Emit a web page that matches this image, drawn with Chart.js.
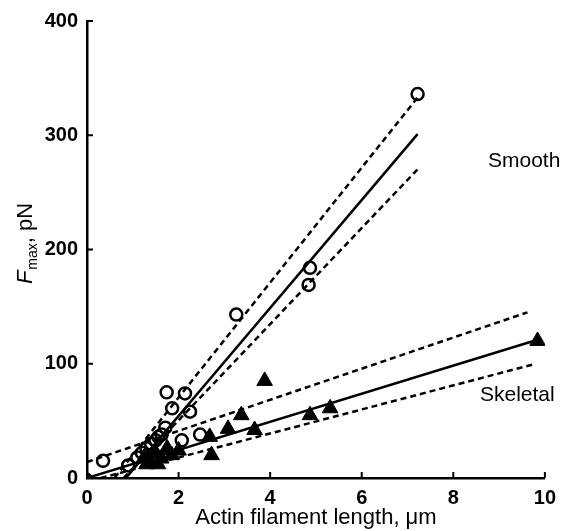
<!DOCTYPE html>
<html>
<head>
<meta charset="utf-8">
<script src="https://cdn.jsdelivr.net/npm/chart.js@4.4.1/dist/chart.umd.min.js"></script>
<style>
  html, body { margin: 0; padding: 0; background: #fff; }
</style>
</head>
<body>
<canvas id="fmax-chart" width="564" height="531"></canvas>
<script>
"use strict";
// values (x: um, y: pN)
const smoothLengths = [0.35, 0.9, 1.1, 1.2, 1.3, 1.4, 1.5, 1.56, 1.63, 1.71, 1.74, 1.86, 2.07, 2.14, 2.25, 2.47, 3.26, 4.84, 4.87, 7.22];
const smoothForces = [15, 11, 18, 22, 26, 30, 33, 36, 38, 44, 75, 61, 33, 74, 58, 38, 143, 169, 184, 336];
const skeletalLengths = [1.25, 1.3, 1.4, 1.5, 1.55, 1.62, 1.75, 1.85, 2.0, 2.68, 2.72, 3.08, 3.37, 3.66, 3.88, 4.87, 5.31, 9.84];
const skeletalForces = [18, 12, 14, 22, 12, 17, 26, 20, 24, 36, 20, 43, 55, 42, 85, 55, 61, 120];
const originLength = [0];
const originForce = [0];

// regression lines and bands (end points)
const smoothFitX = [0.85, 7.22];
const smoothFitY = [0, 301];
const smoothUpperX = [0.6, 7.22];
const smoothUpperY = [0, 333];
const smoothLowerX = [0.8, 7.24];
const smoothLowerY = [0, 271];
const skeletalFitX = [0, 9.84];
const skeletalFitY = [0, 121];
const skeletalUpperX = [0, 9.62];
const skeletalUpperY = [14, 145];
const skeletalLowerX = [0.3, 9.8];
const skeletalLowerY = [0, 100];

const xTickValues = [0, 2, 4, 6, 8, 10];
const yTickValues = [0, 100, 200, 300, 400];

const toPoints = (xs, ys) => xs.map((x, i) => ({ x: x, y: ys[i] }));

const lineSet = (label, xs, ys, dashed) => ({
  label: label,
  data: toPoints(xs, ys),
  showLine: true,
  borderColor: "#000",
  borderWidth: 2.5,
  borderDash: dashed ? [6, 4] : [],
  pointRadius: 0,
  order: 5,
});

const fontFamily = "'Liberation Sans', Arial, Helvetica, sans-serif";

const inwardTicks = {
  id: "inwardTicks",
  afterDraw(chart) {
    const ctx = chart.ctx;
    const xScale = chart.scales.x;
    const yScale = chart.scales.y;
    const area = chart.chartArea;
    ctx.save();
    ctx.strokeStyle = "#000";
    ctx.lineWidth = 2;
    ctx.beginPath();
    xTickValues.forEach((v) => {
      const px = xScale.getPixelForValue(v);
      ctx.moveTo(px, area.bottom);
      ctx.lineTo(px, area.bottom - 6);
    });
    yTickValues.forEach((v) => {
      const py = yScale.getPixelForValue(v);
      ctx.moveTo(area.left, py);
      ctx.lineTo(area.left + 6, py);
    });
    ctx.stroke();

    // y axis title: F(max), pN
    ctx.fillStyle = "#000";
    ctx.translate(26, (area.top + area.bottom) / 2 - 6);
    ctx.rotate(-Math.PI / 2);
    ctx.textBaseline = "middle";
    const mainFont = "22px " + fontFamily;
    const subFont = "14px " + fontFamily;
    const italicFont = "italic 22px " + fontFamily;
    ctx.font = italicFont;
    const wF = ctx.measureText("F").width;
    ctx.font = subFont;
    const wSub = ctx.measureText("max").width;
    ctx.font = mainFont;
    const wRest = ctx.measureText(", pN").width;
    let cx = -(wF + wSub + wRest + 1) / 2;
    ctx.textAlign = "left";
    ctx.font = italicFont;
    ctx.fillText("F", cx, 0);
    cx += wF + 1;
    ctx.font = subFont;
    ctx.fillText("max", cx, 7);
    cx += wSub;
    ctx.font = mainFont;
    ctx.fillText(", pN", cx, 0);
    ctx.restore();

    // series labels
    ctx.save();
    ctx.fillStyle = "#000";
    ctx.font = "21px " + fontFamily;
    ctx.textBaseline = "middle";
    ctx.textAlign = "left";
    ctx.fillText("Smooth", 488, 161);
    ctx.fillText("Skeletal", 480, 395);
    ctx.restore();
  },
};

const chartElement = document.querySelector("#fmax-chart");
new Chart(chartElement, {
  type: "scatter",
  data: {
    datasets: [
      {
        label: "Smooth",
        data: toPoints(smoothLengths, smoothForces),
        pointStyle: "circle",
        pointRadius: 6,
        borderColor: "#000",
        borderWidth: 2.5,
        backgroundColor: "rgba(0,0,0,0)",
        order: 1,
      },
      {
        label: "Skeletal",
        data: toPoints(skeletalLengths, skeletalForces),
        pointStyle: "triangle",
        pointRadius: 9,
        borderColor: "#000",
        borderWidth: 1,
        backgroundColor: "#000",
        order: 2,
      },
      {
        label: "Origin",
        data: toPoints(originLength, originForce),
        pointStyle: "circle",
        pointRadius: 5,
        borderColor: "#000",
        backgroundColor: "#000",
        order: 0,
      },
      lineSet("Smooth fit", smoothFitX, smoothFitY, false),
      lineSet("Smooth upper", smoothUpperX, smoothUpperY, true),
      lineSet("Smooth lower", smoothLowerX, smoothLowerY, true),
      lineSet("Skeletal fit", skeletalFitX, skeletalFitY, false),
      lineSet("Skeletal upper", skeletalUpperX, skeletalUpperY, true),
      lineSet("Skeletal lower", skeletalLowerX, skeletalLowerY, true),
    ],
  },
  options: {
    responsive: false,
    animation: false,
    layout: {
      padding: { left: 0, right: 14, top: 20, bottom: 0 },
    },
    plugins: {
      legend: { display: false },
      tooltip: { enabled: false },
    },
    scales: {
      x: {
        type: "linear",
        min: 0,
        max: 10,
        afterBuildTicks: (scale) => {
          scale.ticks = xTickValues.map((v) => ({ value: v }));
        },
        afterFit: (scale) => {
          scale.height = 53;
        },
        grid: { display: false, drawTicks: false },
        border: { display: true, color: "#000", width: 2.5 },
        ticks: {
          color: "#000",
          padding: 8,
          maxRotation: 0,
          font: { family: fontFamily, size: 20, weight: "bold" },
        },
        title: {
          display: true,
          text: "Actin filament length, \u03bcm",
          color: "#000",
          padding: { top: 2, bottom: 0 },
          font: { family: fontFamily, size: 22 },
        },
      },
      y: {
        type: "linear",
        min: 0,
        max: 400,
        afterBuildTicks: (scale) => {
          scale.ticks = yTickValues.map((v) => ({ value: v }));
        },
        afterFit: (scale) => {
          scale.width = 87;
        },
        grid: { display: false, drawTicks: false },
        border: { display: true, color: "#000", width: 2.5 },
        ticks: {
          color: "#000",
          padding: 9,
          font: { family: fontFamily, size: 20, weight: "bold" },
        },
      },
    },
  },
  plugins: [inwardTicks],
});
</script>
</body>
</html>
